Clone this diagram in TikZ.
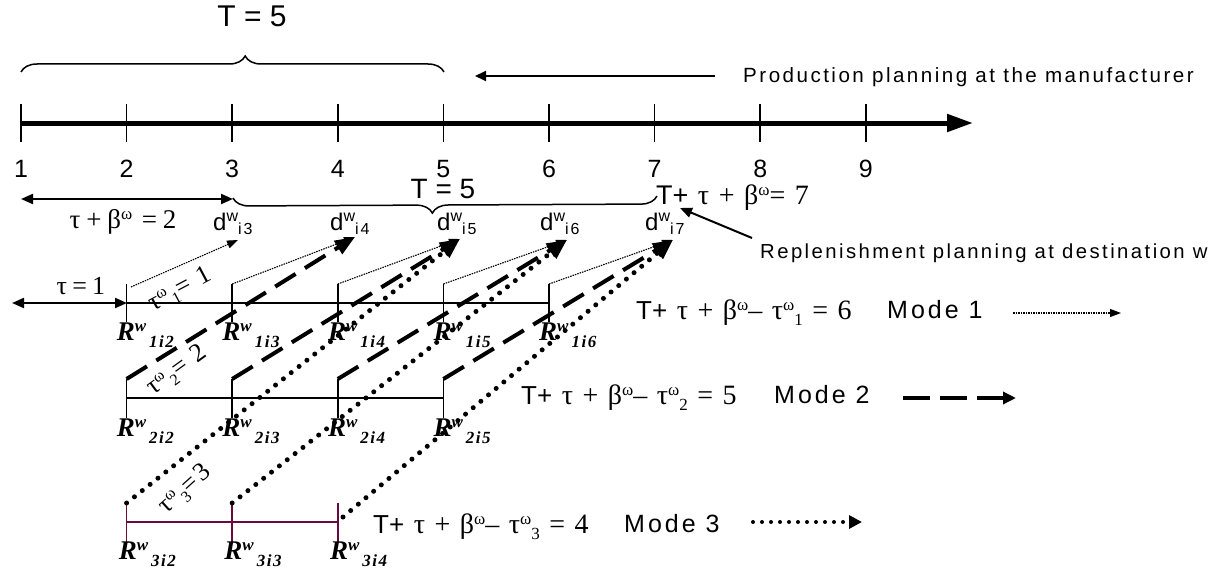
\documentclass[tikz,border=0pt]{standalone}
\usepackage{fontspec}
\setmainfont{Liberation Serif}[LetterSpace=9]
\newfontfamily\ar{Liberation Sans}[LetterSpace=12]
\newfontfamily\arn{Liberation Sans}
\usetikzlibrary{arrows.meta,decorations.pathreplacing}
\definecolor{maroon}{RGB}{105,10,60}
\newcommand\fsz[1]{\fontsize{#1}{#1}\selectfont}
\newcommand\Sp[3]{\raisebox{#1}{\fontsize{#2}{#2}\selectfont #3}}
\newcommand\RR[1]{\textbf{\textit{R\Sp{9pt}{17}{w}\hspace{3pt}\Sp{-7pt}{17}{#1}}}}
\newcommand\DD[1]{d\Sp{9pt}{16}{w}\Sp{-4pt}{16}{#1}}
\begin{document}
\begin{tikzpicture}[x=1pt,y=-1pt,
  axis/.style={line width=5pt,-{Triangle[length=26pt,width=17pt]}},
  tick/.style={line width=1.5pt},
  num/.style={inner sep=0pt,font=\arn\fsz{25}},
  thinline/.style={line width=1.2pt},
  dbl/.style={line width=2pt,{Triangle[length=12pt,width=10pt]}-{Triangle[length=12pt,width=10pt]}},
  onearrow/.style={line width=2pt,-{Triangle[length=12pt,width=10pt]}},
  brc/.style={line width=1.5pt,decorate,decoration={brace,amplitude=16pt,aspect=#1}},
  mone/.style={line width=1.1pt,dash pattern=on 1.5pt off 1pt,-{Triangle[length=11pt,width=8pt]}},
  mtwo/.style={line width=4pt,dash pattern=on 24pt off 11pt,-{Triangle[length=20pt,width=15pt]}},
  mthree/.style={line width=5pt,line cap=round,dash pattern=on 0pt off 10pt,-{Triangle[length=20pt,width=15pt]}},
  sanslbl/.style={inner sep=0pt,font=\ar\fsz{#1}},
  seriflbl/.style={inner sep=0pt,font=\fsz{#1}},
  rlbl/.style={inner sep=0pt,anchor=base west,font=\fsz{27}},
  eqlbl/.style={inner sep=0pt,anchor=base west,font=\fsz{28}},
]
\useasboundingbox (0,0) rectangle (1216,586);

% ---------- main time axis ----------
\coordinate (ax0) at (21,123);
\coordinate (ax1) at (973,123);
\draw[axis] (ax0) -- (ax1);
\foreach \k in {1,...,9}{
  \pgfmathsetmacro\xx{21+(\k-1)*105.6}
  \coordinate (tt\k) at (\xx,104);
  \coordinate (tb\k) at (\xx,142);
  \draw[tick] (tt\k) -- (tb\k);
  \node[num] (n\k) at (\xx,169) {\k};
}

% ---------- top brace ----------
\coordinate (b1l) at (21,72);
\coordinate (b1r) at (444,72);
\draw[brc=0.53] (b1l) -- (b1r);
\node[inner sep=0pt,font=\arn\fsz{30}] (Ttop) at (252,16) {T = 5};

% production planning
\coordinate (pa) at (475,76);
\coordinate (pb) at (715,76);
\draw[line width=2pt,{Triangle[length=11pt,width=10pt]}-] (pa) -- (pb);
\node[sanslbl=20.6,anchor=base west] (prod) at (743,83) {Production planning at the manufacturer};

% ---------- second level ----------
\coordinate (da) at (21,199);
\coordinate (db) at (233,199);
\draw[dbl] (da) -- (db);
\node[seriflbl=27,anchor=base] (tb2) at (123,228) {τ\hspace{0.22em}+\hspace{0.22em}β\Sp{9pt}{17}{ω}\hspace{0.35em}=\hspace{0.22em}2};

\coordinate (b2l) at (233,198);
\coordinate (b2r) at (657,196);
\draw[brc=0.47,decoration={mirror}] (b2l) -- (b2r);
\node[inner sep=0pt,font=\arn\fsz{28}] (Tmid) at (443,189) {T = 5};

\node[inner sep=0pt,anchor=base west,font=\fsz{28}] (T7) at (656,204) {{\arn\fsz{27}T+} τ + β\Sp{9pt}{17}{ω}= 7};

% d labels
\node[inner sep=0pt,anchor=base west,font=\ar\fsz{24}] (d3) at (213,230) {\DD{i3}};
\node[inner sep=0pt,anchor=base west,font=\ar\fsz{24}] (d4) at (330,230) {\DD{i4}};
\node[inner sep=0pt,anchor=base west,font=\ar\fsz{24}] (d5) at (437,230) {\DD{i5}};
\node[inner sep=0pt,anchor=base west,font=\ar\fsz{24}] (d6) at (540,230) {\DD{i6}};
\node[inner sep=0pt,anchor=base west,font=\ar\fsz{24}] (d7) at (645,230) {\DD{i7}};

% arrow tips at demand labels
\coordinate (p3) at (238,240);
\coordinate (p4) at (355,237);
\coordinate (p5) at (460,239);
\coordinate (p6) at (567,240);
\coordinate (p7) at (673,240);

% replenishment
\coordinate (ra) at (752,238);
\coordinate (rb) at (680,208);
\draw[onearrow] (ra) -- (rb);
\node[sanslbl=20.3,anchor=base west] (repl) at (760,258) {Replenishment planning at destination w};

% ---------- tau = 1 ----------
\coordinate (ta) at (12,303);
\coordinate (tbb) at (127,303);
\draw[dbl] (ta) -- (tbb);
\node[seriflbl=26,anchor=base] (tau1) at (81,294) {τ\hspace{0.2em}=\hspace{0.2em}1};

% ---------- row 1 ----------
\coordinate (r1l) at (126.6,303);
\coordinate (r1r) at (549,303);
\draw[thinline] (r1l) -- (r1r);
\foreach \k in {2,...,6}{
  \pgfmathsetmacro\xx{21+(\k-1)*105.6}
  \coordinate (a\k) at (\xx,284);
  \coordinate (ab\k) at (\xx,322);
  \draw[tick] (a\k) -- (ab\k);
  \node[rlbl] (R1\k) at (\xx-10,340) {\RR{1i\k}};
}
% ---------- row 2 ----------
\coordinate (r2l) at (126.6,398);
\coordinate (r2r) at (443.4,398);
\draw[thinline] (r2l) -- (r2r);
\foreach \k in {2,...,5}{
  \pgfmathsetmacro\xx{21+(\k-1)*105.6}
  \coordinate (b\k) at (\xx,379);
  \coordinate (bb\k) at (\xx,418);
  \draw[tick] (b\k) -- (bb\k);
  \node[rlbl] (R2\k) at (\xx-10,436) {\RR{2i\k}};
}
% ---------- row 3 ----------
\coordinate (r3l) at (126.6,522);
\coordinate (r3r) at (337.8,522);
\draw[thinline,maroon] (r3l) -- (r3r);
\foreach \k in {2,...,4}{
  \pgfmathsetmacro\xx{21+(\k-1)*105.6}
  \coordinate (c\k) at (\xx,503);
  \coordinate (cb\k) at (\xx,542);
  \draw[tick,maroon] (c\k) -- (cb\k);
  \node[rlbl] (R3\k) at (\xx-8,559) {\RR{3i\k}};
}
\coordinate (c4s) at (343,517);

% ---------- mode 1 arrows ----------
\coordinate (a2s) at (131,287);
\draw[mone] (a2s) -- (p3);
\draw[mone] (a3) -- (p4);
\draw[mone] (a4) -- (p5);
\draw[mone] (a5) -- (p6);
\draw[mone] (a6) -- (p7);
% ---------- mode 2 arrows ----------
\draw[mtwo] (b2) -- (p4);
\draw[mtwo] (b3) -- (p5);
\draw[mtwo] (b4) -- (p6);
\draw[mtwo] (b5) -- (p7);
% ---------- mode 3 arrows ----------
\draw[mthree] (c2) -- (p5);
\draw[mthree] (c3) -- (p6);
\draw[mthree] (c4s) -- (p7);

% rotated labels
\node[seriflbl=26,rotate=28] (l1) at (180,290) {τ\Sp{8pt}{16}{ω}\hspace{2pt}\Sp{-5pt}{16}{1}= 1};
\node[seriflbl=26,rotate=36] (l2) at (177,371) {τ\Sp{8pt}{16}{ω}\hspace{2pt}\Sp{-5pt}{16}{2}= 2};
\node[seriflbl=26,rotate=42] (l3) at (185,490) {τ\Sp{8pt}{16}{ω}\hspace{2pt}\Sp{-5pt}{16}{3}=3};

% ---------- mode legends ----------
\node[eqlbl] (e1) at (636,319) {{\arn\fsz{26}T+} τ + β\Sp{9pt}{17}{ω}– τ\Sp{9pt}{17}{ω}\Sp{-6pt}{17}{1} = 6};
\node[sanslbl=25,anchor=base west] (m1) at (887,318) {Mode 1};
\coordinate (k1a) at (1013,313);
\coordinate (k1b) at (1121,313);
\draw[mone] (k1a) -- (k1b);

\node[eqlbl] (e2) at (521,404) {{\arn\fsz{26}T+} τ + β\Sp{9pt}{17}{ω}– τ\Sp{9pt}{17}{ω}\Sp{-6pt}{17}{2} = 5};
\node[sanslbl=25,anchor=base west] (m2) at (774,403) {Mode 2};
\coordinate (k2a) at (903,398);
\coordinate (k2b) at (1016,398);
\draw[mtwo,dash pattern=on 27pt off 10pt,-{Triangle[length=13pt,width=12pt]}] (k2a) -- (k2b);

\node[eqlbl] (e3) at (373,533) {{\arn\fsz{26}T+} τ + β\Sp{9pt}{17}{ω}– τ\Sp{9pt}{17}{ω}\Sp{-6pt}{17}{3} = 4};
\node[sanslbl=25,anchor=base west] (m3) at (624,532) {Mode 3};
\coordinate (k3a) at (753,522);
\coordinate (k3b) at (862,522);
\draw[mthree,line width=4pt,dash pattern=on 0pt off 9pt,-{Triangle[length=13pt,width=13pt]}] (k3a) -- (k3b);
\end{tikzpicture}
\end{document}
